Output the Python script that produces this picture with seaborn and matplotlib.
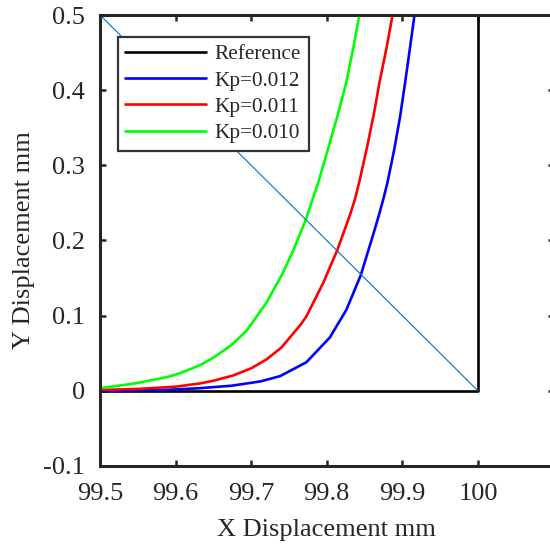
import numpy as np
import pandas as pd
import seaborn as sns
import matplotlib.pyplot as plt

# reference path (corner)
ref_x = [99.5, 100.0, 100.0]
ref_y = [0.0, 0.0, 0.5]

# Kp = 0.012 (blue)
kp012_x = [99.5, 99.588, 99.632, 99.674, 99.712, 99.738, 99.773, 99.804, 99.826, 99.845,
           99.862, 99.869, 99.875, 99.880, 99.889, 99.897, 99.903, 99.910, 99.916]
kp012_y = [0.0, 0.0013, 0.0035, 0.0068, 0.0125, 0.0195, 0.038, 0.071, 0.108, 0.154,
           0.21, 0.234, 0.256, 0.276, 0.32, 0.365, 0.406, 0.456, 0.5]

# Kp = 0.011 (red)
kp011_x = [99.5, 99.55, 99.6, 99.632, 99.65, 99.676, 99.7, 99.72, 99.74, 99.765, 99.773,
           99.795, 99.814, 99.822, 99.831, 99.837, 99.843, 99.853, 99.862, 99.870, 99.879,
           99.887]
kp011_y = [0.0012, 0.0025, 0.0055, 0.0098, 0.0134, 0.0204, 0.030, 0.0416, 0.0576, 0.0876,
           0.099, 0.143, 0.1875, 0.21, 0.235, 0.254, 0.278, 0.323, 0.367, 0.412, 0.456, 0.5]

# Kp = 0.010 (green)
kp010_x = [99.5, 99.544, 99.588, 99.606, 99.632, 99.65, 99.674, 99.694, 99.72, 99.742,
           99.756, 99.772, 99.789, 99.802, 99.815, 99.826, 99.835, 99.843]
kp010_y = [0.0036, 0.0095, 0.018, 0.0235, 0.034, 0.044, 0.061, 0.080, 0.117, 0.157,
           0.1875, 0.227, 0.278, 0.323, 0.369, 0.411, 0.456, 0.5]

# thin diagonal guide
diag_x = [99.5, 100.0]
diag_y = [0.5, 0.0]

series_names = ["Reference", "Kp=0.012", "Kp=0.011", "Kp=0.010"]
series_colors = ["black", "#0000ff", "#ff0000", "#00ff00"]

frames = []
for name, xs, ys in zip(series_names,
                        [ref_x, kp012_x, kp011_x, kp010_x],
                        [ref_y, kp012_y, kp011_y, kp010_y]):
    frames.append(pd.DataFrame({"x": xs, "y": ys, "series": name}))
df = pd.concat(frames, ignore_index=True)

sns.set_style("ticks")
plt.rcParams["font.family"] = ["Liberation Serif", "DejaVu Serif"]

fig = plt.figure(figsize=(5.5, 5.45), dpi=100)
ax = fig.add_axes([100 / 550, 79 / 545, 453.6 / 550, 451 / 545])

sns.lineplot(data=df, x="x", y="y", hue="series", hue_order=series_names,
             palette=dict(zip(series_names, series_colors)),
             sort=False, estimator=None, linewidth=1.9, ax=ax)
for line in ax.get_lines():
    line.set_solid_joinstyle("round")
ax.plot(diag_x, diag_y, color="#0072BD", linewidth=0.8)

ax.set_xlim(99.5, 100.1)
ax.set_ylim(-0.1, 0.5)
ax.set_xticks([99.5, 99.6, 99.7, 99.8, 99.9, 100])
ax.set_xticklabels(["99.5", "99.6", "99.7", "99.8", "99.9", "100"])
ax.set_yticks([-0.1, 0, 0.1, 0.2, 0.3, 0.4, 0.5])
ax.set_yticklabels(["-0.1", "0", "0.1", "0.2", "0.3", "0.4", "0.5"])

for s in ax.spines.values():
    s.set_visible(True)
    s.set_linewidth(2.2)
    s.set_color("#262626")
ax.tick_params(direction="in", top=True, right=True, length=4, width=1.8,
               labelsize=19, colors="#262626")
ax.tick_params(axis="x", pad=12)
ax.tick_params(axis="y", pad=11)

ax.set_xlabel("X Displacement mm", fontsize=19, color="#262626", labelpad=10)
ax.set_ylabel("Y Displacement mm", fontsize=19, color="#262626", labelpad=6)

leg = ax.legend(loc="upper left", bbox_to_anchor=(0.0397, 0.951), borderaxespad=0,
                fontsize=15.3, handlelength=3.8, handletextpad=0.4, labelspacing=0.3,
                fancybox=False, framealpha=1, edgecolor="#333333",
                borderpad=0.35)
leg.get_frame().set_linewidth(1.6)
for line in leg.get_lines():
    line.set_linewidth(1.9)

fig.savefig("out.png", dpi=100)
